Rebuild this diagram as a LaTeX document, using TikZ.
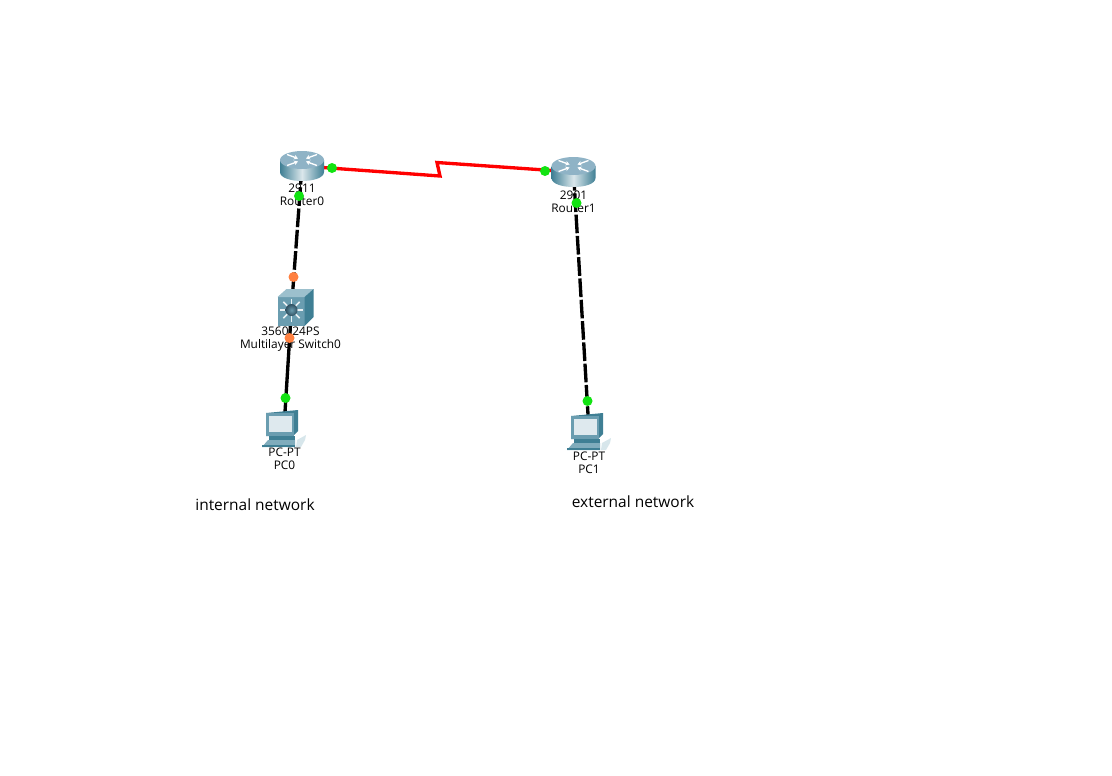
\documentclass[tikz,border=0pt]{standalone}
\usepackage{fontspec}
\setmainfont{Open Sans}
\usetikzlibrary{arrows.meta}
\definecolor{lightgreen}{HTML}{12E312}
\definecolor{lightorange}{HTML}{FF8040}
\definecolor{serialred}{HTML}{FF0000}
\definecolor{tealdark}{HTML}{3F7F94}
\definecolor{tealmid}{HTML}{6A9DB0}
\definecolor{teallight}{HTML}{9CC0CD}
\definecolor{routertop}{HTML}{8FB3C6}
\definecolor{slateball}{HTML}{2F4F60}
\tikzset{
    devlabel/.style={align=center, inner sep=0pt, font=\fontsize{8.9pt}{9.75pt}\selectfont},
    notelabel/.style={inner sep=0pt, font=\fontsize{11.6pt}{13pt}\selectfont},
    device/.style={inner sep=0pt, minimum size=2pt},
    lan/.style={line width=2.5pt, black, dash pattern=on 14pt off 2pt},
    lansolid/.style={line width=2.5pt, black},
    serial/.style={line width=2.5pt, serialred},
    upled/.style={circle, fill=lightgreen, inner sep=0pt, minimum size=7.5pt},
    amberled/.style={circle, fill=lightorange, inner sep=0pt, minimum size=7.5pt},
    routericon/.pic={
        \shade[left color=tealdark, right color=tealdark, middle color=white!75!tealmid, shading angle=90]
            (-22,-6) -- (-22,6) .. controls (-22,18) and (22,18) .. (22,6) -- (22,-6) -- cycle;
        \fill[routertop] (0,-6) ellipse [x radius=22, y radius=9];
        \foreach \sx/\sy in {-1/-1, 1/-1, -1/1, 1/1}
            \draw[white, line width=1pt, -{Stealth[length=3pt, width=3.5pt]}]
                (\sx*15,{-6+\sy*5.5}) -- (\sx*4,{-6+\sy*1.5});
    },
    switchicon/.pic={
        \fill[tealmid] (-14,-11) rectangle (13,18);
        \fill[teallight] (-14,-11) -- (-5,-19) -- (22,-19) -- (13,-11) -- cycle;
        \fill[tealdark] (13,-11) -- (22,-19) -- (22,9) -- (13,18) -- cycle;
        \foreach \ang in {0,45,...,315}
            \draw[white!85!tealmid, line width=1.2pt] (0,2) -- ++(\ang:11.5);
        \shade[inner color=tealmid, outer color=slateball] (0,2) circle (6);
    },
    pcicon/.pic={
        \fill[tealdark] (-18,-15) -- (14,-18) -- (14,3) -- (9,8) -- (-18,8) -- cycle;
        \fill[tealmid] (-18,-15) -- (10,-15) -- (10,8) -- (-18,8) -- cycle;
        \fill[white!78!tealmid] (-15.5,-12.5) rectangle (8,4);
        \fill[tealdark] (-15,8) rectangle (11,13);
        \fill[teallight!70!tealdark] (-22,19) -- (-16,12) -- (11,12) -- (11,19) -- cycle;
        \fill[tealdark] (-22,17) rectangle (11,19);
        \fill[white!60!teallight] (13,12) -- (22,7) -- (21,12) -- (17,19) -- (12,19) -- cycle;
    },
}
\begin{document}
\begin{tikzpicture}[x=0.75pt, y=-0.75pt]
    \useasboundingbox (0,0) rectangle (1112,775);
    % devices
    \node[device] (router0) at (302,166) {};
    \node[device] (router1) at (573.5,172) {};
    \node[device] (switch0) at (291.5,308) {};
    \node[device] (pc0) at (284,428) {};
    \node[device] (pc1) at (589,431) {};
    \coordinate (kinktop) at (437,162.5);
    \coordinate (kinkbot) at (440,176);

    % labels
    \node[devlabel] (router0label) at (302,194.5) {2911\\Router0};
    \node[devlabel] (router1label) at (573.5,202) {2901\\Router1};
    \node[devlabel] (switch0label) at (290.5,339) {3560-24PS\\Multilayer Switch0};
    \node[devlabel] (pc0label) at (284.5,459) {PC-PT\\PC0};
    \node[devlabel] (pc1label) at (589,463) {PC-PT\\PC1};
    \node[notelabel] (internalnote) at (255,504.5) {internal network};
    \node[notelabel] (externalnote) at (633,501.5) {external network};

    % links
    \draw[lan] (router0.center) -- (switch0.center);
    \draw[lansolid] (switch0.center) -- (pc0.center);
    \draw[lan] (router1.center) -- (pc1.center);
    \draw[serial, line join=miter] (router0.center) -- (kinkbot) -- (kinktop) -- (router1.center);

    % link lights
    \node[upled] (led0) at (332,168) {};
    \node[upled] (led1) at (545,171) {};
    \node[upled] (led2) at (299,196) {};
    \node[amberled] (led3) at (293.5,277) {};
    \node[amberled] (led4) at (289.5,338) {};
    \node[upled] (led5) at (285.5,398) {};
    \node[upled] (led6) at (576.5,203) {};
    \node[upled] (led7) at (587.5,401) {};

    % icons
    \pic at (router0) {routericon};
    \pic at (router1) {routericon};
    \pic at (switch0) {switchicon};
    \pic at (pc0) {pcicon};
    \pic at (pc1) {pcicon};
\end{tikzpicture}
\end{document}
